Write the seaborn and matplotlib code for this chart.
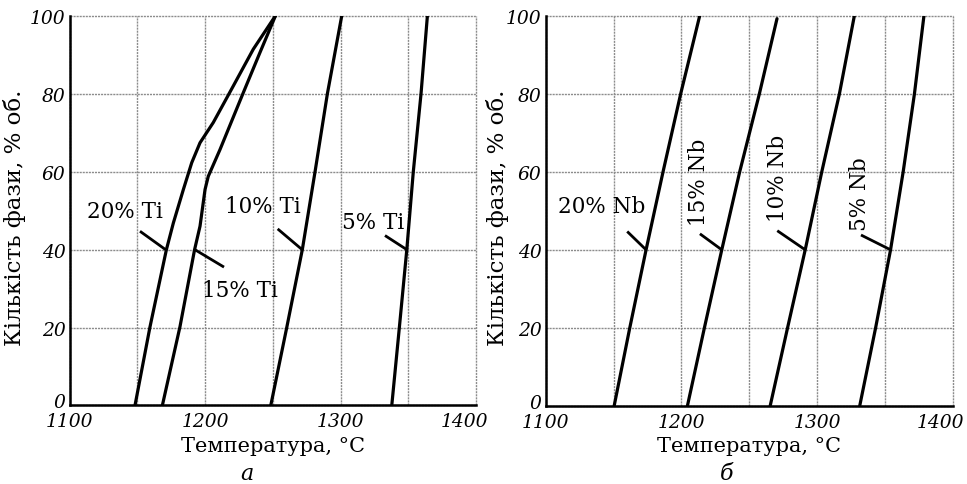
import numpy as np
import pandas as pd
import matplotlib
matplotlib.use("Agg")
import matplotlib.pyplot as plt
import matplotlib.transforms as mtransforms
from matplotlib.ticker import MultipleLocator
import seaborn as sns

# ---------------- data ----------------
ti20_temp = [1148.3, 1159.4, 1171.5, 1176.6, 1184.0, 1190.2, 1196.3, 1206.1, 1220.9, 1235.6, 1252.0]
ti20_phase = [0, 20.2, 40, 46.8, 55.4, 62.3, 67.4, 72.6, 82.0, 91.4, 100]
ti15_temp = [1168.5, 1181.5, 1192.3, 1196.3, 1200.0, 1202.4, 1211.1, 1228.3, 1240.6, 1252.0]
ti15_phase = [0, 20.2, 40, 46, 55.4, 58.8, 65.7, 80.3, 90.6, 100]
ti10_temp = [1248.5, 1260.3, 1271.8, 1281.2, 1290.3, 1300.9]
ti10_phase = [0, 20, 40, 60, 80, 100]
ti5_temp = [1337.8, 1343.4, 1348.9, 1353.7, 1359.4, 1364.1]
ti5_phase = [0, 20, 40, 60, 80, 100]

nb20_temp = [1150.5, 1162.0, 1174.0, 1186.5, 1199.5, 1213.5]
nb20_phase = [0, 20, 40, 60, 80, 100]
nb15_temp = [1204.5, 1217.0, 1229.8, 1243.0, 1257.5, 1270.5]
nb15_phase = [0, 20, 40, 60, 80, 99.3]
nb10_temp = [1265.5, 1278.3, 1291.3, 1303.5, 1316.5, 1327.5]
nb10_phase = [0, 20, 40, 60, 80, 100]
nb5_temp = [1331.5, 1343.2, 1354.2, 1363.5, 1371.8, 1378.8]
nb5_phase = [0, 20, 40, 60, 80, 100]

ti_labels = ["20% Ti", "15% Ti", "10% Ti", "5% Ti"]
nb_labels = ["20% Nb", "15% Nb", "10% Nb", "5% Nb"]
x_ticks = [1100, 1200, 1300, 1400]
y_ticks = [0, 20, 40, 60, 80, 100]
x_label = "Температура, °C"
y_label = "Кількість фази, % об."
panel_letters = ["а", "б"]

# annotation placement: (text x, text y, rotation, leader start, leader end)
ti_annot = [
    (1141.0, 49.9, 0, (1152.0, 44.7), (1170.8, 40.0)),
    (1226.0, 29.7, 0, (1192.4, 40.0), (1214.0, 35.5)),
    (1243.0, 51.1, 0, (1253.6, 45.3), (1271.6, 40.0)),
    (1324.0, 47.0, 0, (1332.8, 43.6), (1348.8, 40.0)),
]
nb_annot = [
    (1141.3, 51.2, 0, (1160.1, 44.7), (1174.0, 40.0)),
    (1212.8, 57.6, 90, (1213.7, 44.1), (1229.8, 40.0)),
    (1271.6, 58.5, 90, (1270.7, 44.9), (1291.3, 40.0)),
    (1332.0, 54.6, 90, (1332.4, 43.8), (1354.2, 40.0)),
]

def make_df(temps, phases, labels):
    frames = []
    for t, p, lab in zip(temps, phases, labels):
        frames.append(pd.DataFrame({"temp": t, "phase": p, "series": lab}))
    return pd.concat(frames, ignore_index=True)

df_ti = make_df([ti20_temp, ti15_temp, ti10_temp, ti5_temp],
                [ti20_phase, ti15_phase, ti10_phase, ti5_phase], ti_labels)
df_nb = make_df([nb20_temp, nb15_temp, nb10_temp, nb5_temp],
                [nb20_phase, nb15_phase, nb10_phase, nb5_phase], nb_labels)

# ---------------- style ----------------
sns.set_style("white")
plt.rcParams["font.family"] = ["DejaVu Serif"]
plt.rcParams["text.color"] = "black"
plt.rcParams["axes.labelcolor"] = "black"
plt.rcParams["xtick.color"] = "black"
plt.rcParams["ytick.color"] = "black"

fig = plt.figure(figsize=(9.67, 4.85), dpi=100)
ax_l = fig.add_axes([0.0719, 0.1619, 0.4204, 0.8037])
ax_r = fig.add_axes([0.5643, 0.1614, 0.4209, 0.8037])

def style_axes(ax, ylabel_x):
    ax.set_xlim(1100, 1400)
    ax.set_ylim(0, 100)
    ax.xaxis.set_minor_locator(MultipleLocator(50))
    ax.set_xticks(x_ticks)
    ax.set_yticks(y_ticks)
    ax.grid(True, which="both", color="#8c8c8c", lw=1.0, ls=(0, (1.5, 0.7)))
    for gl in ax.get_xgridlines() + ax.get_ygridlines():
        gl.set_clip_on(False)
    ax.set_axisbelow(True)
    for s in ["top", "right"]:
        ax.spines[s].set_visible(False)
    for s in ["left", "bottom"]:
        ax.spines[s].set_color("black")
        ax.spines[s].set_linewidth(1.8)
        ax.spines[s].set_zorder(5)
    ax.tick_params(axis="both", which="both", length=0)
    ax.tick_params(axis="x", pad=5)
    ax.tick_params(axis="y", pad=3)
    for lab in ax.get_xticklabels() + ax.get_yticklabels():
        lab.set_fontstyle("italic")
        lab.set_fontsize(13.5)
    # lift the "0" label a little, as in the reference
    y0 = ax.get_yticklabels()[0]
    y0.set_transform(y0.get_transform() +
                     mtransforms.ScaledTranslation(0, 5 / 100, fig.dpi_scale_trans))
    # pull the last x label inwards, as in the reference
    xl = ax.get_xticklabels()[-1]
    xl.set_transform(xl.get_transform() +
                     mtransforms.ScaledTranslation(-12 / 100, 0, fig.dpi_scale_trans))
    ax.set_xlabel(x_label, fontsize=15, labelpad=4)
    ax.set_ylabel(y_label, fontsize=16.5)
    ax.yaxis.set_label_coords(ylabel_x, 0.4836)

for ax, df, annots, labels, ylx in [(ax_l, df_ti, ti_annot, ti_labels, -0.106),
                                     (ax_r, df_nb, nb_annot, nb_labels, -0.090)]:
    sns.lineplot(data=df, x="temp", y="phase", units="series", estimator=None,
                 sort=False, color="black", lw=2.3, ax=ax, legend=False, zorder=3)
    style_axes(ax, ylx)
    for lab, (tx, ty, rot, p0, p1) in zip(labels, annots):
        ax.plot([p0[0], p1[0]], [p0[1], p1[1]], color="black", lw=2.0,
                solid_capstyle="butt", zorder=3)
        ax.text(tx, ty, lab, fontsize=15.5, rotation=rot, ha="center",
                va="center", zorder=4)

fig.text(246.7 / 967, 1 - 474 / 485, panel_letters[0], fontsize=16,
         fontstyle="italic", ha="center", va="center")
fig.text(727 / 967, 1 - 474 / 485, panel_letters[1], fontsize=16,
         fontstyle="italic", ha="center", va="center")

fig.savefig("out.png", dpi=100, facecolor="white")
